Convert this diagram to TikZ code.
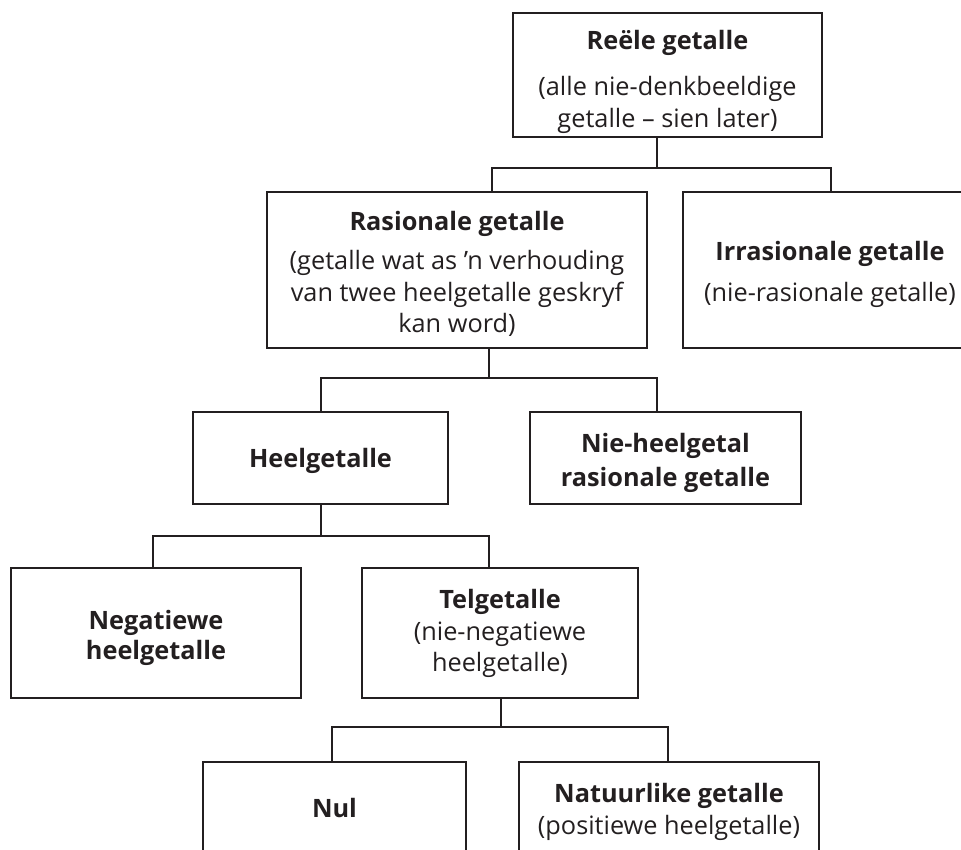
\documentclass[tikz,border=0pt]{standalone}
\usepackage{fontspec}
\setmainfont{Open Sans}
\definecolor{ink}{HTML}{231F20}
\newcommand{\lift}[1]{\rule{0pt}{#1pt}}
\begin{document}
\begin{tikzpicture}[x=1pt,y=-1pt,
  box/.style={draw=ink,line width=1.8pt,inner sep=0pt,align=center,text=ink,
    font=\fontsize{25.3}{31.5}\selectfont},
  conn/.style={draw=ink,line width=1.8pt}]
\useasboundingbox (0,0) rectangle (961,849);
\node[box,minimum width=309pt,minimum height=124pt] (top) at (667.5,75)
  {\lift{33}\textbf{Reële getalle}\\[14pt](alle nie-denkbeeldige\\[0.5pt]getalle – sien later)};
\node[box,minimum width=380pt,minimum height=156pt] (rat) at (457,270)
  {\lift{27}\textbf{Rasionale getalle}\\[8pt](getalle wat as ’n verhouding\\van twee heelgetalle geskryf\\kan word)};
\node[box,minimum width=294pt,minimum height=156pt] (irr) at (830,270)
  {\lift{28}\textbf{Irrasionale getalle}\\[9pt](nie-rasionale getalle)};
\node[box,minimum width=255pt,minimum height=92pt] (heel) at (320.5,458)
  {\lift{25}\textbf{Heelgetalle}};
\node[box,minimum width=271pt,minimum height=92pt] (nieheel) at (665.5,458)
  {\lift{29}\textbf{Nie-heelgetal}\\[2pt]\textbf{rasionale getalle}};
\node[box,minimum width=290pt,minimum height=130pt] (neg) at (156,633)
  {\lift{28.6}\textbf{Negatiewe}\\[-1.5pt]\textbf{heelgetalle}};
\node[box,minimum width=276pt,minimum height=130pt] (tel) at (500,633)
  {\lift{21}\textbf{Telgetalle}\\(nie-negatiewe\\heelgetalle)};
\node[box,minimum width=263pt,minimum height=92pt] (nul) at (334.5,808)
  {\textbf{Nul}};
\node[box,minimum width=300pt,minimum height=92pt] (nat) at (669,808)
  {\lift{27}\textbf{Natuurlike getalle}\\(positiewe heelgetalle)};
% junctions
\coordinate (a) at (657,168); \coordinate (al) at (492,168); \coordinate (ar) at (831,168);
\coordinate (b) at (489,378); \coordinate (bl) at (321,378); \coordinate (br) at (657,378);
\coordinate (c) at (321,536); \coordinate (cl) at (153,536); \coordinate (cr) at (489,536);
\coordinate (d) at (501,727); \coordinate (dl) at (332,727); \coordinate (dr) at (668,727);
\draw[conn] (top.south -| a) -- (a);
\draw[conn] (rat.north -| al) -- (al) -- (ar) -- (irr.north -| ar);
\draw[conn] (rat.south -| b) -- (b);
\draw[conn] (heel.north -| bl) -- (bl) -- (br) -- (nieheel.north -| br);
\draw[conn] (heel.south -| c) -- (c);
\draw[conn] (neg.north -| cl) -- (cl) -- (cr) -- (tel.north -| cr);
\draw[conn] (tel.south -| d) -- (d);
\draw[conn] (nul.north -| dl) -- (dl) -- (dr) -- (nat.north -| dr);
\end{tikzpicture}
\end{document}
